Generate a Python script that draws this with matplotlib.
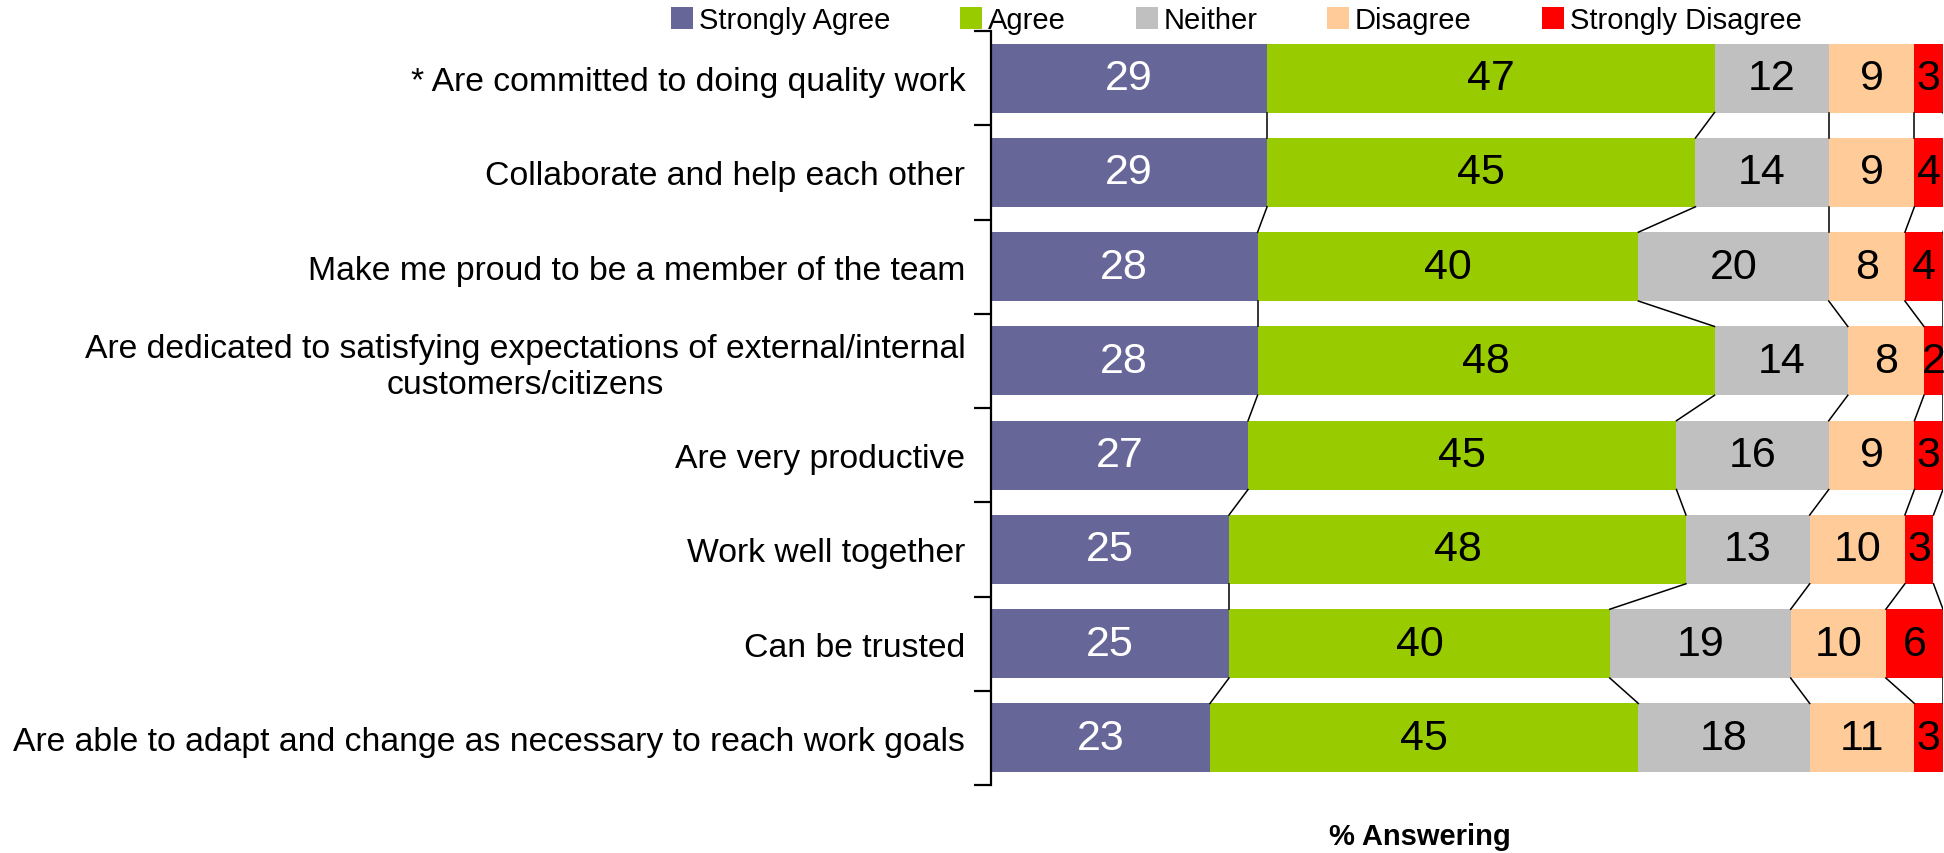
import matplotlib
matplotlib.use("Agg")
import matplotlib.pyplot as plt
from matplotlib.patches import Patch
import numpy as np

plt.rcParams['font.family'] = ['Liberation Sans', 'DejaVu Sans']

categories = [
    "* Are committed to doing quality work",
    "Collaborate and help each other",
    "Make me proud to be a member of the team",
    "Are dedicated to satisfying expectations of external/internal\ncustomers/citizens",
    "Are very productive",
    "Work well together",
    "Can be trusted",
    "Are able to adapt and change as necessary to reach work goals",
]
series_names = ["Strongly Agree", "Agree", "Neither", "Disagree", "Strongly Disagree"]
strongly_agree = [29, 29, 28, 28, 27, 25, 25, 23]
agree = [47, 45, 40, 48, 45, 48, 40, 45]
neither = [12, 14, 20, 14, 16, 13, 19, 18]
disagree = [9, 9, 8, 8, 9, 10, 10, 11]
strongly_disagree = [3, 4, 4, 2, 3, 3, 6, 3]

colors = ["#666699", "#99CC00", "#C0C0C0", "#FFCC99", "#FF0000"]
text_colors = ["white", "black", "black", "black", "black"]

data = np.array([strongly_agree, agree, neither, disagree, strongly_disagree], dtype=float)
y = np.arange(len(categories))
bar_h = 0.73

fig = plt.figure(figsize=(19.44, 8.54), dpi=100)
ax = fig.add_axes([991 / 1944, 68 / 854, 952 / 1944, 754 / 854])

left = np.zeros(len(categories))
ends = []
for vals, col, tcol in zip(data, colors, text_colors):
    ax.barh(y, vals, left=left, height=bar_h, color=col, edgecolor='none')
    for yi, l, v in zip(y, left, vals):
        right = min(l + v, 100)
        ax.text((l + right) / 2, yi, f"{int(v)}", ha='center', va='center',
                fontsize=31, color=tcol, clip_on=False)
    left = left + vals
    ends.append(left.copy())

# series lines joining the segment ends of neighbouring bars
for cum in ends:
    for i in range(len(y) - 1):
        ax.plot([cum[i], cum[i + 1]], [y[i] + bar_h / 2, y[i + 1] - bar_h / 2],
                color='black', lw=1.1)

ax.set_xlim(0, 100)
ax.set_ylim(len(categories) - 0.5, -0.5)

ax.set_yticks(np.arange(-0.5, len(categories)), labels=[])
ax.set_yticks(y, labels=categories, minor=True)
ax.tick_params(axis='y', which='major', length=12, width=1.6, direction='out')
ax.tick_params(axis='y', which='minor', length=0, pad=18.5, labelsize=24.3)
for lab in ax.get_yticklabels(minor=True):
    lab.set_multialignment('center')
ax.set_xticks([])

for side in ['top', 'right', 'bottom']:
    ax.spines[side].set_visible(False)
ax.spines['left'].set_linewidth(1.6)

ax.set_xlabel("% Answering", fontsize=21, fontweight='bold')
ax.xaxis.set_label_coords((1420 - 991) / 952, -51 / 754)
ax.xaxis.label.set_va('center')

handles = [Patch(facecolor=c, edgecolor='none') for c in colors]
fig.legend(handles, series_names, loc='center left', bbox_to_anchor=(671 / 1944, 1 - 21 / 854),
           ncol=5, frameon=False, fontsize=21, handlelength=0.75, handleheight=0.75,
           handletextpad=0.2, columnspacing=2.4, borderpad=0, borderaxespad=0)

fig.savefig("out.png", dpi=100)
